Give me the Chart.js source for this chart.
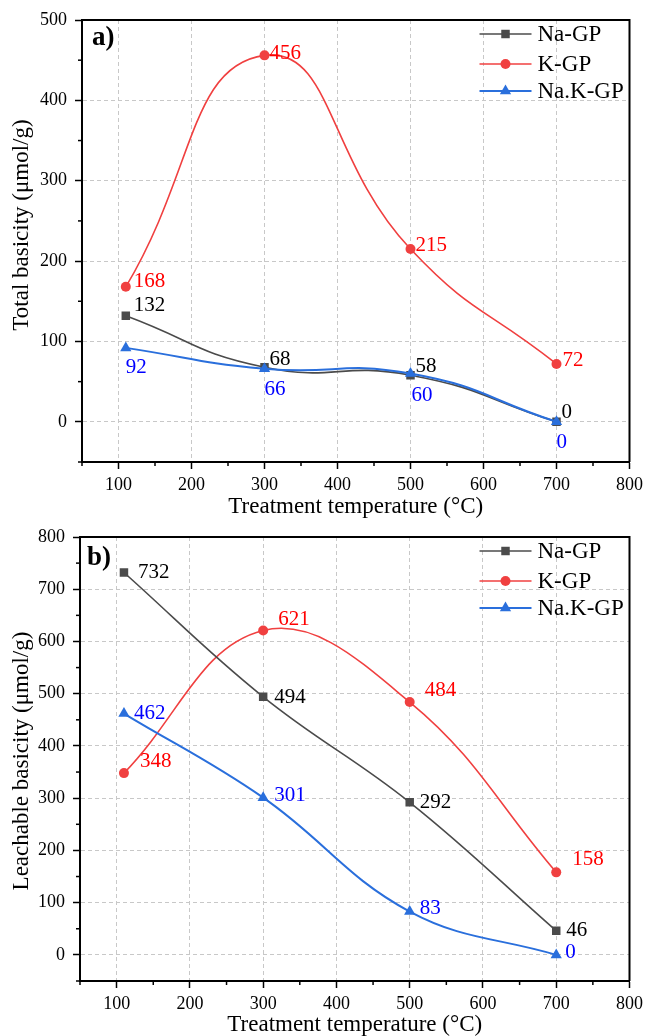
<!DOCTYPE html>
<html>
<head>
<meta charset="utf-8">
<script src="https://cdn.jsdelivr.net/npm/chart.js@4.4.0/dist/chart.umd.min.js"></script>
<style>
  html, body { margin: 0; padding: 0; background: #fff; }
  canvas { display: block; }
</style>
</head>
<body>
<canvas id="graficoA" width="648" height="518"></canvas>
<canvas id="graficoB" width="648" height="518"></canvas>
<script>
// Dados
const temperaturas = [110, 300, 500, 700];
const series = ['Na-GP', 'K-GP', 'Na.K-GP'];

const totalNa = [132, 68, 58, 0];
const totalK = [168, 456, 215, 72];
const totalNaK = [92, 66, 60, 0];

const lixNa = [732, 494, 292, 46];
const lixK = [348, 621, 484, 158];
const lixNaK = [462, 301, 83, 0];

const xTicks = [100, 200, 300, 400, 500, 600, 700, 800];
const yTicksA = [0, 100, 200, 300, 400, 500];
const yTicksB = [0, 100, 200, 300, 400, 500, 600, 700, 800];

// Estilo
const FONTE = "'Liberation Serif', 'Times New Roman', serif";
const cores = ['#4b4b4b', '#f04040', '#2a6fdc'];
const coresRotulo = ['#000000', '#ff0000', '#0000ff'];
const marcadores = ['rect', 'circle', 'triangle'];
const raios = [6, 5, 6.5];

// deslocamento dos rótulos (dx, dy) em relação ao ponto
const offsetsA = [
    [[8, -10], [5, -8], [5, -9], [5, -9]],
    [[8, -5], [5, -2], [5, -4], [6, -3]],
    [[0, 20], [0, 21], [1, 22], [0, 21]]
];
const offsetsB = [
    [[14, 0], [11, 1], [10, 0], [10, 0]],
    [[16, -12], [15, -11], [15, -12], [16, -13]],
    [[10, 0], [11, -2], [10, -3], [9, -2]]
];

function pontos(valores) {
    return temperaturas.map((t, i) => ({ x: t, y: valores[i] }));
}

function montaDatasets(listas, tensao) {
    return listas.map((valores, i) => ({
        label: series[i],
        data: pontos(valores),
        borderColor: cores[i],
        backgroundColor: cores[i],
        borderWidth: i === 2 ? 2 : 1.6,
        pointStyle: marcadores[i],
        pointRadius: raios[i],
        pointBorderWidth: 0,
        tension: tensao,
        order: i === 2 ? 0 : 1
    }));
}

// rótulos de valor, legenda, moldura, título do eixo y e ticks menores
const extras = {
    id: 'extras',
    afterDatasetsDraw(chart, args, opts) {
        const ctx = chart.ctx;
        ctx.save();
        ctx.font = '21px ' + FONTE;
        ctx.textAlign = 'left';
        ctx.textBaseline = 'middle';
        chart.data.datasets.forEach((ds, i) => {
            const meta = chart.getDatasetMeta(i);
            meta.data.forEach((el, j) => {
                const off = opts.offsets[i][j];
                ctx.fillStyle = coresRotulo[i];
                ctx.fillText(String(ds.data[j].y), el.x + off[0], el.y + off[1]);
            });
        });
        ctx.restore();
    },
    afterDraw(chart, args, opts) {
        const ctx = chart.ctx;
        const area = chart.chartArea;
        ctx.save();
        // moldura superior e direita
        ctx.strokeStyle = '#000';
        ctx.lineWidth = 2;
        ctx.beginPath();
        ctx.moveTo(area.left, area.top);
        ctx.lineTo(area.right, area.top);
        ctx.lineTo(area.right, area.bottom);
        ctx.stroke();

        // ticks menores
        ctx.lineWidth = 1.5;
        const xs = chart.scales.x, ys = chart.scales.y;
        xs.ticks.forEach(t => {
            if (xTicks.includes(t.value)) return;
            const px = xs.getPixelForValue(t.value);
            ctx.beginPath();
            ctx.moveTo(px, area.bottom);
            ctx.lineTo(px, area.bottom + 4);
            ctx.stroke();
        });
        ys.ticks.forEach(t => {
            if (opts.yTicks.includes(t.value)) return;
            const py = ys.getPixelForValue(t.value);
            ctx.beginPath();
            ctx.moveTo(area.left, py);
            ctx.lineTo(area.left - 4, py);
            ctx.stroke();
        });

        // título do eixo y
        ctx.fillStyle = '#000';
        ctx.font = '23px ' + FONTE;
        ctx.textAlign = 'center';
        ctx.textBaseline = 'middle';
        ctx.save();
        ctx.translate(22, opts.tituloY);
        ctx.rotate(-Math.PI / 2);
        ctx.fillText(opts.titulo, 0, 0);
        ctx.restore();

        // letra do painel
        ctx.font = 'bold 27px ' + FONTE;
        ctx.textAlign = 'left';
        ctx.fillText(opts.painel, area.left + opts.painelPos[0], area.top + opts.painelPos[1]);

        // legenda
        const linhas = [14, 44, 71];
        chart.data.datasets.forEach((ds, i) => {
            const y = area.top + linhas[i];
            const x0 = area.right - 150, x1 = area.right - 98;
            ctx.strokeStyle = ds.borderColor;
            ctx.lineWidth = ds.borderWidth;
            ctx.beginPath();
            ctx.moveTo(x0, y);
            ctx.lineTo(x1, y);
            ctx.stroke();
            ctx.fillStyle = ds.backgroundColor;
            Chart.helpers.drawPoint(ctx, { pointStyle: ds.pointStyle, radius: ds.pointRadius, rotation: 0, borderWidth: 0 }, (x0 + x1) / 2, y);
            ctx.fillStyle = '#000';
            ctx.font = '23px ' + FONTE;
            ctx.fillText(ds.label, area.right - 92, y + 1);
        });
        ctx.restore();
    }
};

function opcoes(cfg) {
    return {
        responsive: false,
        animation: false,
        layout: { padding: { top: cfg.top, right: cfg.right, left: 0, bottom: 0 } },
        plugins: {
            legend: { display: false },
            tooltip: { enabled: false },
            extras: {
                offsets: cfg.offsets, yTicks: cfg.yTicks, painel: cfg.painel, painelPos: cfg.painelPos,
                titulo: cfg.titulo, tituloY: cfg.tituloY
            }
        },
        scales: {
            x: {
                type: 'linear',
                min: 50,
                max: 800,
                afterFit: s => { s.height = cfg.xAltura; },
                ticks: {
                    stepSize: 50,
                    autoSkip: false,
                    maxRotation: 0,
                    padding: 5,
                    color: '#000',
                    font: { family: FONTE, size: 18 },
                    callback: v => xTicks.includes(v) ? v : ''
                },
                grid: {
                    color: c => (c.tick && xTicks.includes(c.tick.value) && c.tick.value !== 800) ? '#c8c8c8' : 'rgba(0,0,0,0)',
                    tickColor: c => (c.tick && xTicks.includes(c.tick.value)) ? '#000' : 'rgba(0,0,0,0)',
                    tickLength: 7,
                    tickWidth: 1.5,
                    lineWidth: 1
                },
                border: { color: '#000', width: 2, dash: [4, 3] },
                title: {
                    display: true,
                    text: 'Treatment temperature (°C)',
                    color: '#000',
                    font: { family: FONTE, size: 23, lineHeight: 1 },
                    padding: { top: 0, bottom: 0 }
                }
            },
            y: {
                min: cfg.yMin,
                max: cfg.yMax,
                afterFit: s => { s.width = cfg.left; },
                ticks: {
                    stepSize: 50,
                    autoSkip: false,
                    padding: 8,
                    color: '#000',
                    font: { family: FONTE, size: 18 },
                    callback: v => cfg.yTicks.includes(v) ? v : ''
                },
                grid: {
                    color: c => (c.tick && cfg.yTicks.includes(c.tick.value) && c.tick.value !== cfg.yMax) ? '#c8c8c8' : 'rgba(0,0,0,0)',
                    tickColor: c => (c.tick && cfg.yTicks.includes(c.tick.value)) ? '#000' : 'rgba(0,0,0,0)',
                    tickLength: 7,
                    tickWidth: 1.5,
                    lineWidth: 1
                },
                border: { color: '#000', width: 2, dash: [4, 3] },
                title: { display: false }
            }
        }
    };
}

new Chart(document.getElementById('graficoA').getContext('2d'), {
    type: 'line',
    data: { datasets: montaDatasets([totalNa, totalK, totalNaK], 0.5) },
    options: opcoes({
        top: 20, right: 14, left: 82, xAltura: 56,
        yMin: -50, yMax: 500, yTicks: yTicksA,
        titulo: 'Total basicity (μmol/g)', tituloY: 225,
        offsets: offsetsA, painel: 'a)', painelPos: [10, 18]
    }),
    plugins: [extras]
});

new Chart(document.getElementById('graficoB').getContext('2d'), {
    type: 'line',
    data: { datasets: montaDatasets([lixNa, lixK, lixNaK], 0.4) },
    options: opcoes({
        top: 19, right: 17, left: 80, xAltura: 55,
        yMin: -50, yMax: 800, yTicks: yTicksB,
        titulo: 'Leachable basicity (μmol/g)', tituloY: 243,
        offsets: offsetsB, painel: 'b)', painelPos: [7, 21]
    }),
    plugins: [extras]
});
</script>
</body>
</html>
